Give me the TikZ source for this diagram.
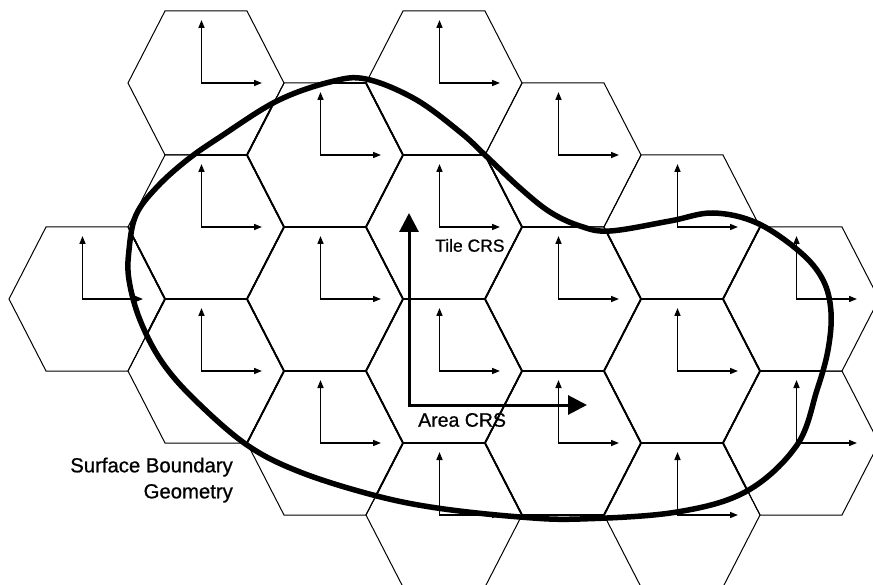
\documentclass[tikz,border=0pt]{standalone}
\usepackage{fontspec}
\setmainfont{Liberation Sans}
\newfontfamily\lblfont[FakeBold=0.8]{Liberation Sans}
\usetikzlibrary{arrows.meta}
\begin{document}
\begin{tikzpicture}[x=1pt,y=-1pt,
  hexthin/.style={line width=1.0pt, line join=miter},
  hexthick/.style={line width=1.7pt, line join=miter},
  smallarrow/.style={line width=1.5pt, {Triangle[length=8pt,width=6pt]}-{Triangle[length=8pt,width=6pt]}},
  bigarrow/.style={line width=3pt, -{Triangle[length=19pt,width=19pt]}},
  boundary/.style={line width=5.5pt, line join=round},
  lbl/.style={inner sep=0pt}]
\useasboundingbox (0,0) rectangle (873,585);
\def\hexcenters{87/299, 206/83, 206/227, 206/371, 325/155, 325/299, 325/443,
  444/83, 444/227, 444/371, 444/515, 563/155, 563/299, 563/443,
  682/227, 682/371, 682/515, 801/299, 801/443}
\def\hexpath#1#2{({#1-78},{#2}) -- ({#1-41},{#2-72}) -- ({#1+41},{#2-72}) -- ({#1+78},{#2}) -- ({#1+41},{#2+72}) -- ({#1-41},{#2+72}) -- cycle}
\def\boundarypath{plot[smooth cycle, tension=0.6] coordinates {
  (366,79) (415,99) (460,132) (485,155) (520,188) (550,212) (580,226)
  (610,231) (670,221) (713,213) (757,223) (800,252) (823,280) (831,312)
  (828,350) (817,390) (797,445) (747,491) (677,512)
  (580,519) (520,517) (437,508) (373,495) (300,472) (247,445)
  (195,400) (162,362) (140,320) (129,280) (129,250) (136,215) (157,187)
  (187,160) (220,137) (277,101) (330,82)}}
% thin hexagon edges
\begin{scope}
  \clip (0,0) rectangle (873,585);
  \foreach \cx/\cy in \hexcenters {
    \draw[hexthin] \hexpath{\cx}{\cy};
  }
\end{scope}
% thicker edges inside the boundary
\begin{scope}
  \clip \boundarypath;
  \foreach \cx/\cy in \hexcenters {
    \draw[hexthick] \hexpath{\cx}{\cy};
  }
\end{scope}
% tile coordinate systems
\begin{scope}
  \clip (0,0) rectangle (873,585);
  \foreach \cx/\cy in \hexcenters {
    \draw[smallarrow] ({\cx-4.5},{\cy-63}) |- ({\cx+56},{\cy});
  }
\end{scope}
% area coordinate system
\coordinate (areaO) at (409,405);
\coordinate (areaY) at (409,213);
\coordinate (areaX) at (587,405);
\draw[bigarrow] ([yshift=-1.5pt]areaO) -- (areaY);
\draw[bigarrow] ([xshift=-1.5pt]areaO) -- (areaX);
% surface boundary
\draw[boundary] \boundarypath;
% labels
\node[lbl, anchor=base west, font=\lblfont\fontsize{17.5}{21}\selectfont] (tile) at (435,251.7) {Tile CRS};
\node[lbl, anchor=base west, font=\lblfont\fontsize{19.5}{23}\selectfont] (area) at (418,426.7) {Area CRS};
\node[lbl, anchor=base east, font=\lblfont\fontsize{20.3}{24}\selectfont] (sb1) at (233,472.3) {Surface Boundary};
\node[lbl, anchor=base east, font=\lblfont\fontsize{20.3}{24}\selectfont] (sb2) at (233,498.3) {Geometry};
\end{tikzpicture}
\end{document}
